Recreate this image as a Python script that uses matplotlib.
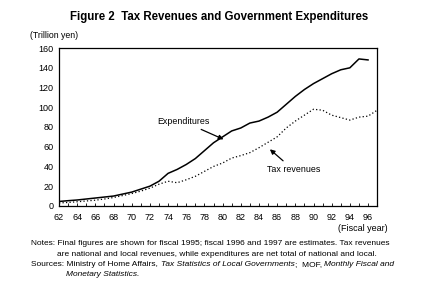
import matplotlib
matplotlib.use("Agg")
import matplotlib.pyplot as plt
from matplotlib.ticker import MultipleLocator

plt.rcParams['font.family'] = ['Liberation Sans', 'DejaVu Sans']

# fiscal years and values (trillion yen)
exp_years = list(range(62, 97))
expenditures = [4.5, 5.3, 6.0, 7.0, 8.0, 9.0, 10.0, 12.0, 14.0, 17.0,
                20.0, 25.0, 33.0, 37.0, 42.0, 48.0, 56.0, 64.0, 70.0, 76.0,
                79.0, 84.0, 86.0, 90.0, 95.0, 103.0, 111.0, 118.0, 124.0, 129.0,
                134.0, 138.0, 140.0, 149.0, 148.0]
tax_years = list(range(62, 98))
tax_revenues = [3.0, 3.5, 4.2, 5.0, 5.8, 7.0, 8.5, 10.5, 12.5, 15.0,
                18.0, 22.0, 25.0, 23.5, 26.5, 30.0, 35.0, 40.0, 43.5, 48.5,
                51.0, 54.0, 59.0, 64.5, 70.0, 79.0, 86.0, 92.0, 98.0, 97.0,
                92.0, 89.5, 87.0, 90.0, 91.0, 97.0]

fig = plt.figure(figsize=(4.37, 2.95), dpi=100)
ax = fig.add_axes([0.135, 0.302, 0.728, 0.535])

ax.plot(exp_years, expenditures, color='black', lw=1.1)
ax.plot(tax_years, tax_revenues, color='black', lw=0.9, linestyle=(0, (1, 1.8)))

ax.set_xlim(62, 97)
ax.set_ylim(0, 160)
ax.xaxis.set_minor_locator(MultipleLocator(1))
ax.yaxis.set_major_locator(MultipleLocator(20))
ax.set_xticks(range(62, 97, 2))
ax.tick_params(axis='x', which='both', direction='in', length=2, width=0.6,
               labelsize=6.5, pad=5, top=False)
ax.tick_params(axis='y', length=0, labelsize=6.5, pad=4)
for s in ax.spines.values():
    s.set_linewidth(0.9)

# labels with arrows
ax.annotate('Expenditures', xy=(80.1, 67.5), xytext=(75.7, 85.5),
            ha='center', va='center', fontsize=6.4,
            arrowprops=dict(arrowstyle='-|>', color='black', lw=0.9,
                            mutation_scale=7, shrinkA=1, shrinkB=0))
ax.annotate('Tax revenues', xy=(85.2, 57.4), xytext=(87.8, 36.5),
            ha='center', va='center', fontsize=6.4,
            arrowprops=dict(arrowstyle='-|>', color='black', lw=0.9,
                            mutation_scale=7, shrinkA=2, shrinkB=0))

fig.text(0.502, 0.944, 'Figure 2  Tax Revenues and Government Expenditures',
         ha='center', va='center', fontsize=8.3, fontweight='bold')
fig.text(0.069, 0.881, '(Trillion yen)', ha='left', va='center', fontsize=6.3)
fig.text(0.888, 0.224, '(Fiscal year)', ha='right', va='center', fontsize=6.5)

# notes and sources
fs = 6.0
fig.text(0.072, 0.173, 'Notes: Final figures are shown for fiscal 1995; fiscal 1996 and 1997 are estimates. Tax revenues',
         ha='left', va='center', fontsize=fs)
fig.text(0.131, 0.138, 'are national and local revenues, while expenditures are net total of national and local.',
         ha='left', va='center', fontsize=fs)
t1 = fig.text(0.072, 0.104, 'Sources: Ministry of Home Affairs, ', ha='left', va='center', fontsize=fs)
t2 = fig.text(0, 0, 'Tax Statistics of Local Governments', fontsize=fs, style='italic')
t3 = fig.text(0, 0, ';  MOF, ', fontsize=fs)
t4 = fig.text(0, 0, 'Monthly Fiscal and', fontsize=fs, style='italic')
fig.canvas.draw()
r = fig.canvas.get_renderer()
prev = t1
for t in (t2, t3, t4):
    bb = prev.get_window_extent(r).transformed(fig.transFigure.inverted())
    t.set_position((bb.x1, 0.104))
    t.set_va('center')
    prev = t
fig.text(0.151, 0.069, 'Monetary Statistics.', ha='left', va='center', fontsize=fs, style='italic')

fig.savefig('out.png', dpi=100)
